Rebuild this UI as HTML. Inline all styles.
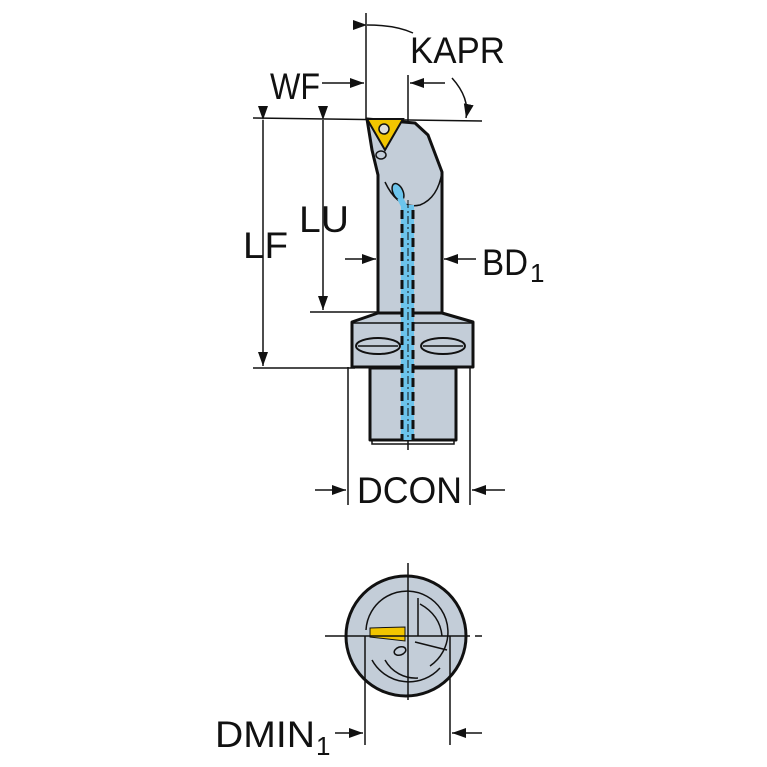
<!DOCTYPE html>
<html><head><style>html,body{margin:0;padding:0;background:#fff}svg{display:block}text{font-family:"Liberation Sans",sans-serif;fill:#111}</style></head>
<body>
<svg width="767" height="767" viewBox="0 0 767 767" xmlns="http://www.w3.org/2000/svg">
<defs>
<marker id="b" markerWidth="14" markerHeight="10" refX="14" refY="5" orient="auto" markerUnits="userSpaceOnUse"><path d="M0,0 L14,5 L0,10 z" fill="#111"/></marker>
</defs>
<g stroke="#111" stroke-width="1.5" fill="none">
<line x1="366" y1="13" x2="366" y2="120"/>
<line x1="253" y1="118" x2="482" y2="121"/>
<line x1="263" y1="120" x2="263" y2="366" marker-start="url(#b)" marker-end="url(#b)"/>
<line x1="323" y1="120" x2="323" y2="310" marker-start="url(#b)" marker-end="url(#b)"/>
<line x1="310" y1="312" x2="378" y2="312"/>
<line x1="253" y1="368" x2="355" y2="368"/>
<line x1="322" y1="83" x2="364" y2="83" marker-end="url(#b)"/>
<line x1="445" y1="83" x2="410" y2="83" marker-end="url(#b)"/>
<line x1="408" y1="75" x2="408" y2="450"/>
<path d="M367,25 Q395,25 413,33" marker-start="url(#b)"/>
<path d="M452,78 Q470,98 466,118" marker-end="url(#b)"/>
<line x1="345" y1="259" x2="376" y2="259" marker-end="url(#b)"/>
<line x1="476" y1="259" x2="444" y2="259" marker-end="url(#b)"/>
<line x1="348" y1="367" x2="348" y2="505"/>
<line x1="470" y1="367" x2="470" y2="505"/>
<line x1="315" y1="490" x2="346" y2="490" marker-end="url(#b)"/>
<line x1="505" y1="490" x2="472" y2="490" marker-end="url(#b)"/>
</g>
<g stroke="#111" stroke-width="3" fill="#c3cdd8" stroke-linejoin="round">
<rect x="370" y="368" width="86" height="72"/>
<path d="M378,315 L378,175 L372,150 L367,119 L415,123 L428,135 L442,172 L442,315 Z"/>
<path d="M352,322 L378,313 L442,313 L473,322 L473,367 L352,367 Z"/>
</g>
<g stroke="#111" stroke-width="1.5" fill="none">
<path d="M352,323 L473,323"/>
<path d="M372,440 L372,444 L454,444 L454,440"/>
<path d="M385,182 Q398,210 420,205 Q438,198 442,172"/>
</g>
<rect x="401" y="205" width="13" height="235" fill="#6cc4ec"/>
<ellipse cx="398" cy="192" rx="5" ry="9" fill="#6cc4ec" stroke="#111" stroke-width="1.5" transform="rotate(-25 398 192)"/>
<path d="M400,198 L406,210" stroke="#6cc4ec" stroke-width="6"/>
<g stroke="#111" stroke-width="3" stroke-dasharray="9,5">
<line x1="402" y1="210" x2="402" y2="440"/><line x1="413" y1="210" x2="413" y2="440"/>
</g>
<line x1="408" y1="200" x2="408" y2="450" stroke="#111" stroke-width="1" stroke-dasharray="8,3,2,3"/>
<g stroke="#111" stroke-width="2" fill="#c3cdd8">
<ellipse cx="378" cy="346" rx="22" ry="8"/><ellipse cx="443" cy="346" rx="22" ry="8"/>
</g>
<line x1="358" y1="346" x2="398" y2="346" stroke="#111" stroke-width="1.5"/>
<line x1="423" y1="346" x2="463" y2="346" stroke="#111" stroke-width="1.5"/>
<path d="M367,119 L403,119 L385,150 Z" fill="#f2c500" stroke="#111" stroke-width="2"/>
<circle cx="384" cy="129" r="5" fill="#ddd" stroke="#111" stroke-width="1.5"/>
<ellipse cx="381" cy="155" rx="5" ry="4" fill="#c3cdd8" stroke="#111" stroke-width="1.5"/>
<text x="270" y="99" font-size="37" textLength="50" lengthAdjust="spacingAndGlyphs">WF</text>
<text x="410" y="63" font-size="37" textLength="95" lengthAdjust="spacingAndGlyphs">KAPR</text>
<text x="243" y="258" font-size="37" textLength="45" lengthAdjust="spacingAndGlyphs">LF</text>
<text x="299" y="232" font-size="37" textLength="50" lengthAdjust="spacingAndGlyphs">LU</text>
<text x="482" y="275" font-size="37" textLength="46" lengthAdjust="spacingAndGlyphs">BD</text>
<text x="530" y="282" font-size="26">1</text>
<text x="357" y="503" font-size="37" textLength="105" lengthAdjust="spacingAndGlyphs">DCON</text>
<text x="215" y="747" font-size="37" textLength="100" lengthAdjust="spacingAndGlyphs">DMIN</text>
<text x="316" y="755" font-size="26">1</text>
<circle cx="406" cy="636" r="60" fill="#c3cdd8" stroke="#111" stroke-width="3"/>
<g stroke="#111" stroke-width="1.5" fill="none">
<path d="M366,630 A41,41 0 1,1 430,666"/>
<path d="M372,660 A42,42 0 0,0 440,668"/>
<path d="M418,598 L418,636"/>
<path d="M420,604 Q440,615 442,636"/>
<path d="M415,642 L447,650"/>
<path d="M385,660 A35,35 0 0,0 418,678"/>
</g>
<ellipse cx="400" cy="651" rx="6" ry="4" fill="#c3cdd8" stroke="#111" stroke-width="1.5" transform="rotate(-20 400 651)"/>
<path d="M370,628 L405,627 L405,641 L370,637 Z" fill="#f2c500" stroke="#111" stroke-width="1"/>
<g stroke="#111" stroke-width="1.5">
<line x1="325" y1="636" x2="470" y2="636"/><line x1="475" y1="636" x2="482" y2="636"/>
<line x1="408" y1="563" x2="408" y2="700"/>
<line x1="365" y1="636" x2="365" y2="745"/>
<line x1="450" y1="636" x2="450" y2="745"/>
<line x1="335" y1="733" x2="363" y2="733" marker-end="url(#b)"/>
<line x1="482" y1="733" x2="452" y2="733" marker-end="url(#b)"/>
</g>
</svg>
</body></html>
